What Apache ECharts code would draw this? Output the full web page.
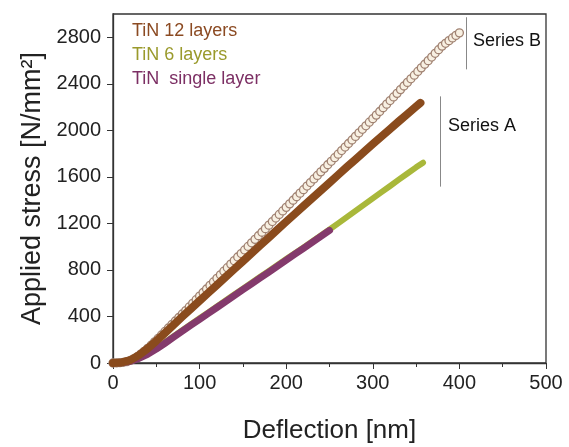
<!DOCTYPE html>
<html>
<head>
<meta charset="utf-8">
<script src="https://cdn.jsdelivr.net/npm/echarts@6/dist/echarts.min.js"></script>
<style>
    html, body { margin: 0; padding: 0; background: #fff; }
    #chart { width: 569px; height: 447px; }
</style>
</head>
<body>
<div id="chart"></div>
<script>
    // Series B (open circles)
    const seriesBX = [0, 4, 8, 12, 16, 20, 24, 28, 32, 36, 40, 44, 48, 52, 56, 60, 64, 68, 72, 76, 80, 84, 88, 92, 96,
        100, 104, 108, 112, 116, 120, 124, 128, 132, 136, 140, 144, 148, 152, 156, 160, 164, 168, 172, 176, 180, 184, 188, 192, 196,
        200, 204, 208, 212, 216, 220, 224, 228, 232, 236, 240, 244, 248, 252, 256, 260, 264, 268, 272, 276, 280, 284, 288, 292, 296,
        300, 304, 308, 312, 316, 320, 324, 328, 332, 336, 340, 344, 348, 352, 356, 360, 364, 368, 372, 376, 380, 384, 388, 392, 396, 400];
    const seriesBY = [0, 1, 3, 6, 12, 22, 36, 54, 76, 100, 126, 153, 182, 211, 241, 271, 301, 331, 361, 391, 421, 451, 482, 513, 544,
        575, 606, 636, 667, 697, 728, 758, 789, 819, 850, 880, 911, 941, 972, 1002, 1033, 1063, 1094, 1124, 1155, 1185, 1216, 1246, 1277, 1307,
        1338, 1368, 1399, 1429, 1460, 1490, 1521, 1551, 1582, 1612, 1643, 1673, 1704, 1734, 1765, 1795, 1826, 1856, 1887, 1917, 1948, 1978, 2009, 2039, 2070,
        2100, 2131, 2162, 2194, 2225, 2256, 2287, 2318, 2350, 2381, 2412, 2443, 2474, 2506, 2537, 2568, 2599, 2630, 2662, 2693, 2724, 2748, 2771, 2794, 2816, 2838];

    // TiN 12 layers
    const layers12X = [0, 10, 20, 30, 40, 50, 60, 70, 80, 90, 100, 110, 120, 130, 140, 150, 160, 170, 180, 190,
        200, 210, 220, 230, 240, 250, 260, 270, 280, 290, 300, 310, 320, 330, 340, 350, 355];
    const layers12Y = [0, 5, 25, 68, 125, 190, 258, 328, 398, 466, 535, 603, 671, 739, 807, 875, 943, 1011, 1079, 1147,
        1215, 1282, 1349, 1416, 1483, 1550, 1617, 1684, 1750, 1816, 1882, 1947, 2012, 2077, 2141, 2205, 2236];

    // TiN 6 layers
    const layers6X = [0, 10, 20, 30, 40, 50, 60, 70, 80, 90, 100, 110, 120, 130, 140, 150, 160, 170, 180, 190,
        200, 210, 220, 230, 240, 250, 260, 270, 280, 290, 300, 310, 320, 330, 340, 350, 358];
    const layers6Y = [0, 4, 18, 45, 82, 128, 178, 230, 282, 333, 384, 435, 486, 537, 588, 639, 690, 741, 792, 843,
        893, 943, 994, 1045, 1096, 1147, 1200, 1254, 1308, 1361, 1415, 1469, 1522, 1576, 1629, 1682, 1722];

    // TiN single layer
    const singleX = [0, 10, 20, 30, 40, 50, 60, 70, 80, 90, 100, 110, 120, 130, 140, 150, 160, 170, 180, 190,
        200, 210, 220, 230, 240, 250];
    const singleY = [0, 3, 15, 40, 75, 120, 170, 222, 274, 325, 375, 426, 477, 528, 579, 630, 680, 731, 782, 833,
        884, 935, 986, 1037, 1088, 1140];

    const xTicks = [0, 100, 200, 300, 400, 500];
    const yTicks = [0, 400, 800, 1200, 1600, 2000, 2400, 2800];

    function pairs(xs, ys) {
        return xs.map((x, i) => [x, ys[i]]);
    }

    const FONT = "'Liberation Sans', Arial, sans-serif";
    const myChart = echarts.init(document.getElementById('chart'));
    myChart.setOption({
        backgroundColor: '#fff',
        animation: false,
        textStyle: { fontFamily: FONT },
        grid: {
            left: 113,
            right: 23,
            top: 14,
            bottom: 84,
            outerBoundsMode: 'none',
            show: true,
            borderColor: '#333',
            borderWidth: 1.3
        },
        legend: {
            orient: 'vertical',
            left: 122,
            top: 17,
            icon: 'none',
            itemWidth: 0,
            itemHeight: 18,
            itemGap: 6,
            selectedMode: false,
            textStyle: { fontSize: 18, fontFamily: FONT },
            data: [
                { name: 'TiN 12 layers', textStyle: { color: '#8b4a22' } },
                { name: 'TiN 6 layers', textStyle: { color: '#9a9a2c' } },
                { name: 'TiN  single layer', textStyle: { color: '#7c2f64' } }
            ]
        },
        xAxis: {
            type: 'value',
            min: xTicks[0],
            max: xTicks[xTicks.length - 1],
            interval: 100,
            name: 'Deflection [nm]',
            nameLocation: 'middle',
            nameGap: 55,
            nameTextStyle: { fontSize: 26, color: '#222', fontFamily: FONT },
            axisLine: { show: true, onZero: false, lineStyle: { color: '#333', width: 1.3 } },
            axisTick: { show: true, length: 6, lineStyle: { color: '#333' } },
            minorTick: { show: true, splitNumber: 2, length: 4, lineStyle: { color: '#333' } },
            splitLine: { show: false },
            axisLabel: { fontSize: 20, color: '#222', margin: 10 }
        },
        yAxis: {
            type: 'value',
            min: yTicks[0],
            max: 3000,
            interval: 400,
            name: 'Applied stress [N/mm²]',
            nameLocation: 'middle',
            nameGap: 62,
            nameTextStyle: { fontSize: 27, color: '#222', fontFamily: FONT },
            axisLine: { show: true, onZero: false, lineStyle: { color: '#333', width: 1.3 } },
            axisTick: { show: true, length: 6, lineStyle: { color: '#333' } },
            splitLine: { show: false },
            axisLabel: {
                fontSize: 20, color: '#222', margin: 12, showMaxLabel: false,
                formatter: (v) => String(v)
            }
        },
        graphic: [
            { type: 'text', left: 473, top: 32, style: { text: 'Series B', fontSize: 18, fill: '#111', fontFamily: FONT } },
            { type: 'text', left: 448, top: 117, style: { text: 'Series A', fontSize: 18, fill: '#111', fontFamily: FONT } }
        ],
        series: [
            {
                name: 'Series B',
                type: 'line',
                data: pairs(seriesBX, seriesBY),
                symbol: 'circle',
                symbolSize: 8,
                showAllSymbol: true,
                lineStyle: { width: 0 },
                itemStyle: { color: '#f8f0e2', borderColor: '#a08272', borderWidth: 1.3 },
                z: 2,
                markLine: {
                    silent: true,
                    symbol: 'none',
                    label: { show: false },
                    lineStyle: { color: '#888', width: 1, type: 'solid' },
                    data: [
                        [{ coord: [408, 2972] }, { coord: [408, 2524] }],
                        [{ coord: [378, 2292] }, { coord: [378, 1516] }]
                    ]
                }
            },
            {
                name: 'TiN 6 layers',
                type: 'line',
                data: pairs(layers6X, layers6Y),
                symbol: 'none',
                lineStyle: { color: '#a9b83a', width: 6, cap: 'round', join: 'round' },
                itemStyle: { color: '#a9b83a' },
                z: 3
            },
            {
                name: 'TiN  single layer',
                type: 'line',
                data: pairs(singleX, singleY),
                symbol: 'none',
                lineStyle: { color: '#843a6c', width: 7, cap: 'round', join: 'round' },
                itemStyle: { color: '#843a6c' },
                z: 4
            },
            {
                name: 'TiN 12 layers',
                type: 'line',
                data: pairs(layers12X, layers12Y),
                symbol: 'none',
                lineStyle: { color: '#8a4b1d', width: 8, cap: 'round', join: 'round' },
                itemStyle: { color: '#8a4b1d' },
                z: 5
            }
        ]
    });
</script>
</body>
</html>
